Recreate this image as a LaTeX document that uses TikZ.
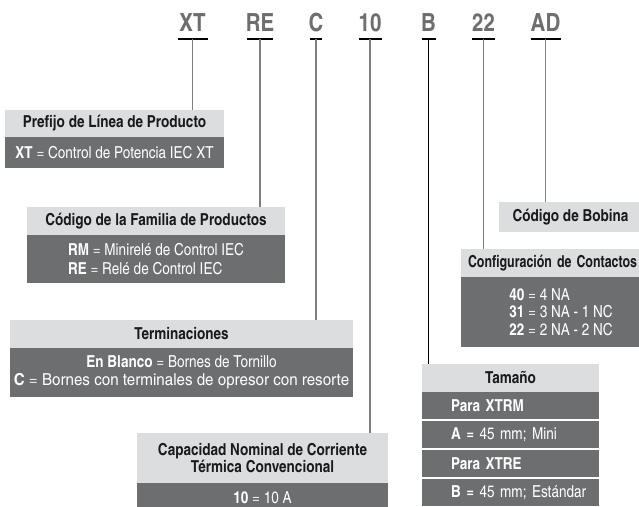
\documentclass[tikz,border=0pt]{standalone}
\usepackage{fontspec}
\setmainfont{texgyreheroscn}[Extension=.otf, UprightFont=*-regular, BoldFont=*-bold]
\definecolor{hdr}{HTML}{DCDDDE}
\definecolor{bdy}{HTML}{6D6E70}
\definecolor{codegray}{HTML}{6D6E70}
\definecolor{conngray}{HTML}{7F7F7F}
\definecolor{hdrtext}{HTML}{1A1A1A}
\newcommand\hfont{\fontsize{16.5}{17}\selectfont\bfseries}
\newcommand\bfont{\fontsize{16.5}{18.5}\selectfont}
\tikzset{
  codelbl/.style={font=\fontsize{25}{25}\selectfont\bfseries, text=codegray, inner sep=0, anchor=base},
  uline/.style={line width=2pt, black},
  conn/.style={line width=1.2pt, conngray},
  connb/.style={line width=1.2pt, black},
  box/.style={rectangle, inner sep=0, outer sep=0, anchor=north west},
  hdrbox/.style={box, fill=hdr, font=\hfont, text=hdrtext},
  bdybox/.style={box, fill=bdy, font=\bfont, text=white},
}
\begin{document}
\begin{tikzpicture}[x=1pt,y=-1pt]
\useasboundingbox (0,0) rectangle (639,506);
\clip (0,0) rectangle (639,506);
\fill[white] (0,0) rectangle (639,506);

% code labels
\node[codelbl] (cXT) at (192.5,31) {XT};
\node[codelbl] (cRE) at (260,31) {RE};
\node[codelbl] (cC) at (316,31) {C};
\node[codelbl] (c10) at (370,31) {10};
\node[codelbl] (cB) at (428.5,31) {B};
\node[codelbl] (c22) at (483.5,31) {22};
\node[codelbl] (cAD) at (545.5,31) {AD};

% boxes
\node[hdrbox, minimum width=219, minimum height=27] (h1) at (5,110) {Prefijo de Línea de Producto};
\node[bdybox, minimum width=219, minimum height=31] (b1) at (h1.south west) {\textbf{XT} = Control de Potencia IEC XT};

\node[hdrbox, minimum width=258, minimum height=28] (h2) at (27,207) {Código de la Familia de Productos};
\node[bdybox, minimum width=258, minimum height=48, align=left] (b2) at (h2.south west) {\textbf{RM} = Minirelé de Control IEC\\\textbf{RE} = Relé de Control IEC};

\node[hdrbox, minimum width=343, minimum height=28] (h3) at (10,320) {Terminaciones};
\node[bdybox, minimum width=343, minimum height=49, align=center] (b3) at (h3.south west) {\textbf{En Blanco} = Bornes de Tornillo\\\scalebox{1.12}[1]{\textbf{C} = Bornes con terminales de opresor con resorte}};

\node[hdrbox, minimum width=251, minimum height=50, align=center] (h4) at (137,433) {Capacidad Nominal de Corriente\\Térmica Convencional};
\node[bdybox, minimum width=251, minimum height=30] (b4) at (h4.south west) {\textbf{10} = 10 A};

\node[hdrbox, minimum width=143, minimum height=30] (h5) at (499,202) {Código de Bobina};

\node[hdrbox, minimum height=28, align=left, text width=200] (h6) at (461,249) {\hspace*{7pt}\resizebox{169pt}{\height}{Configuración de Contactos}};
\node[bdybox, minimum width=200, minimum height=70, align=left, font=\fontsize{16.5}{17.5}\selectfont] (b6) at (h6.south west) {\textbf{40} = 4 NA\\\textbf{31} = 3 NA - 1 NC\\\textbf{22} = 2 NA - 2 NC};

\node[hdrbox, minimum width=177, minimum height=28] (h7) at (422,364) {Tamaño};
\node[bdybox, minimum height=27, text width=177, align=left] (r1) at (h7.south west) {\hspace*{29pt}\textbf{Para XTRM}};
\node[bdybox, minimum height=27, text width=177, align=left] (r2) at ([yshift=-2pt]r1.south west) {\hspace*{29pt}\textbf{A =} 45 mm; Mini};
\node[bdybox, minimum height=27, text width=177, align=left] (r3) at ([yshift=-2pt]r2.south west) {\hspace*{29pt}\textbf{Para XTRE}};
\node[bdybox, minimum height=27, text width=177, align=left] (r4) at ([yshift=-2pt]r3.south west) {\hspace*{29pt}\textbf{B =} 45 mm; Estándar};

% underlines
\draw[uline] ([xshift=-15pt,yshift=-8pt]cXT.base) -- ([xshift=15pt,yshift=-8pt]cXT.base);
\draw[uline] ([xshift=-13pt,yshift=-8pt]cRE.base) -- ([xshift=13pt,yshift=-8pt]cRE.base);
\draw[uline] ([xshift=-6pt,yshift=-8pt]cC.base) -- ([xshift=6pt,yshift=-8pt]cC.base);
\draw[uline] ([xshift=-11.5pt,yshift=-8pt]c10.base) -- ([xshift=11.5pt,yshift=-8pt]c10.base);
\draw[uline] ([xshift=-7pt,yshift=-8pt]cB.base) -- ([xshift=7pt,yshift=-8pt]cB.base);
\draw[uline] ([xshift=-11.5pt,yshift=-8pt]c22.base) -- ([xshift=11.5pt,yshift=-8pt]c22.base);
\draw[uline] ([xshift=-15pt,yshift=-8pt]cAD.base) -- ([xshift=15pt,yshift=-8pt]cAD.base);

% connectors
\draw[conn] ([yshift=-8pt]cXT.base) -- (cXT.base |- h1.north);
\draw[conn] ([yshift=-8pt]cRE.base) -- (cRE.base |- h2.north);
\draw[conn] ([yshift=-8pt]cC.base) -- (cC.base |- h3.north);
\draw[conn] ([yshift=-8pt]c10.base) -- (c10.base |- h4.north);
\draw[connb] ([yshift=-8pt]cB.base) -- (cB.base |- h7.north);
\draw[conn] ([yshift=-8pt]c22.base) -- (c22.base |- h6.north);
\draw[conn] ([yshift=-8pt]cAD.base) -- (cAD.base |- h5.north);
\end{tikzpicture}
\end{document}
